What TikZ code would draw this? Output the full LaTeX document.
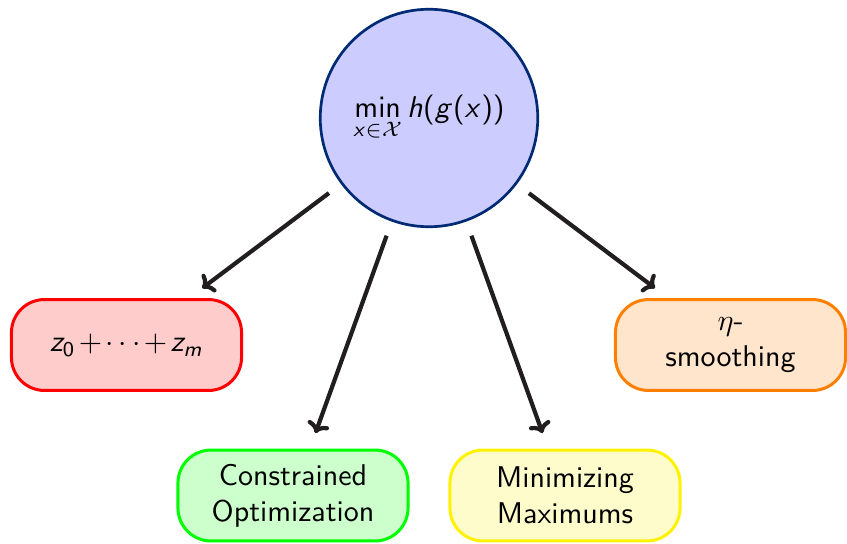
\documentclass[tikz,border=0pt]{standalone}
\usetikzlibrary{arrows.meta}
% sans-serif math: upright sans operators/digits, slanted sans letters
\SetSymbolFont{operators}{normal}{OT1}{cmss}{m}{n}
\DeclareSymbolFont{sfslanted}{OT1}{cmss}{m}{sl}
\DeclareMathSymbol{h}{\mathalpha}{sfslanted}{`h}
\DeclareMathSymbol{g}{\mathalpha}{sfslanted}{`g}
\DeclareMathSymbol{x}{\mathalpha}{sfslanted}{`x}
\DeclareMathSymbol{z}{\mathalpha}{sfslanted}{`z}
\DeclareMathSymbol{m}{\mathalpha}{sfslanted}{`m}
\definecolor{rootedge}{RGB}{0,42,115}
\definecolor{arrowink}{RGB}{34,30,31}
\tikzset{
  root/.style={circle, draw=rootedge, fill=blue!20, line width=0.9pt,
    minimum size=72.5pt, inner sep=0pt, font=\sffamily},
  leaf/.style={rectangle, rounded corners=11pt, line width=1pt,
    minimum width=76.7pt, minimum height=30.3pt, inner sep=2pt,
    align=center, font=\sffamily},
  link/.style={draw=arrowink, line width=1.4pt, -{To[length=3.5pt,width=7.5pt]},
    shorten <=5pt, shorten >=5.5pt}
}
\begin{document}
\begin{tikzpicture}[x=0.33333pt, y=-0.33333pt]
  \useasboundingbox (0,0) rectangle (847,543);
  \node[root] (c) at (429,118) {$\displaystyle\min_{x\in\mathcal{X}} h(g(x))$};
  \node[leaf, draw=red, fill=red!20] (sum) at (126.5,345)
    {$z_0\mkern-2mu+\mkern-2mu\cdots\mkern-2mu+\mkern-2mu z_m$};
  \node[leaf, draw=orange, fill=orange!20] (eta) at (730.5,345) {$\eta$-\\smoothing};
  \node[leaf, draw=green, fill=green!20] (con) at (293,495.5) {Constrained\\Optimization};
  \node[leaf, draw=yellow, fill=yellow!20] (mm) at (565,495.5) {Minimizing\\Maximums};
  \draw[link] (c) -- (sum);
  \draw[link] (c) -- (con);
  \draw[link] (c) -- (mm);
  \draw[link] (c) -- (eta);
\end{tikzpicture}
\end{document}
